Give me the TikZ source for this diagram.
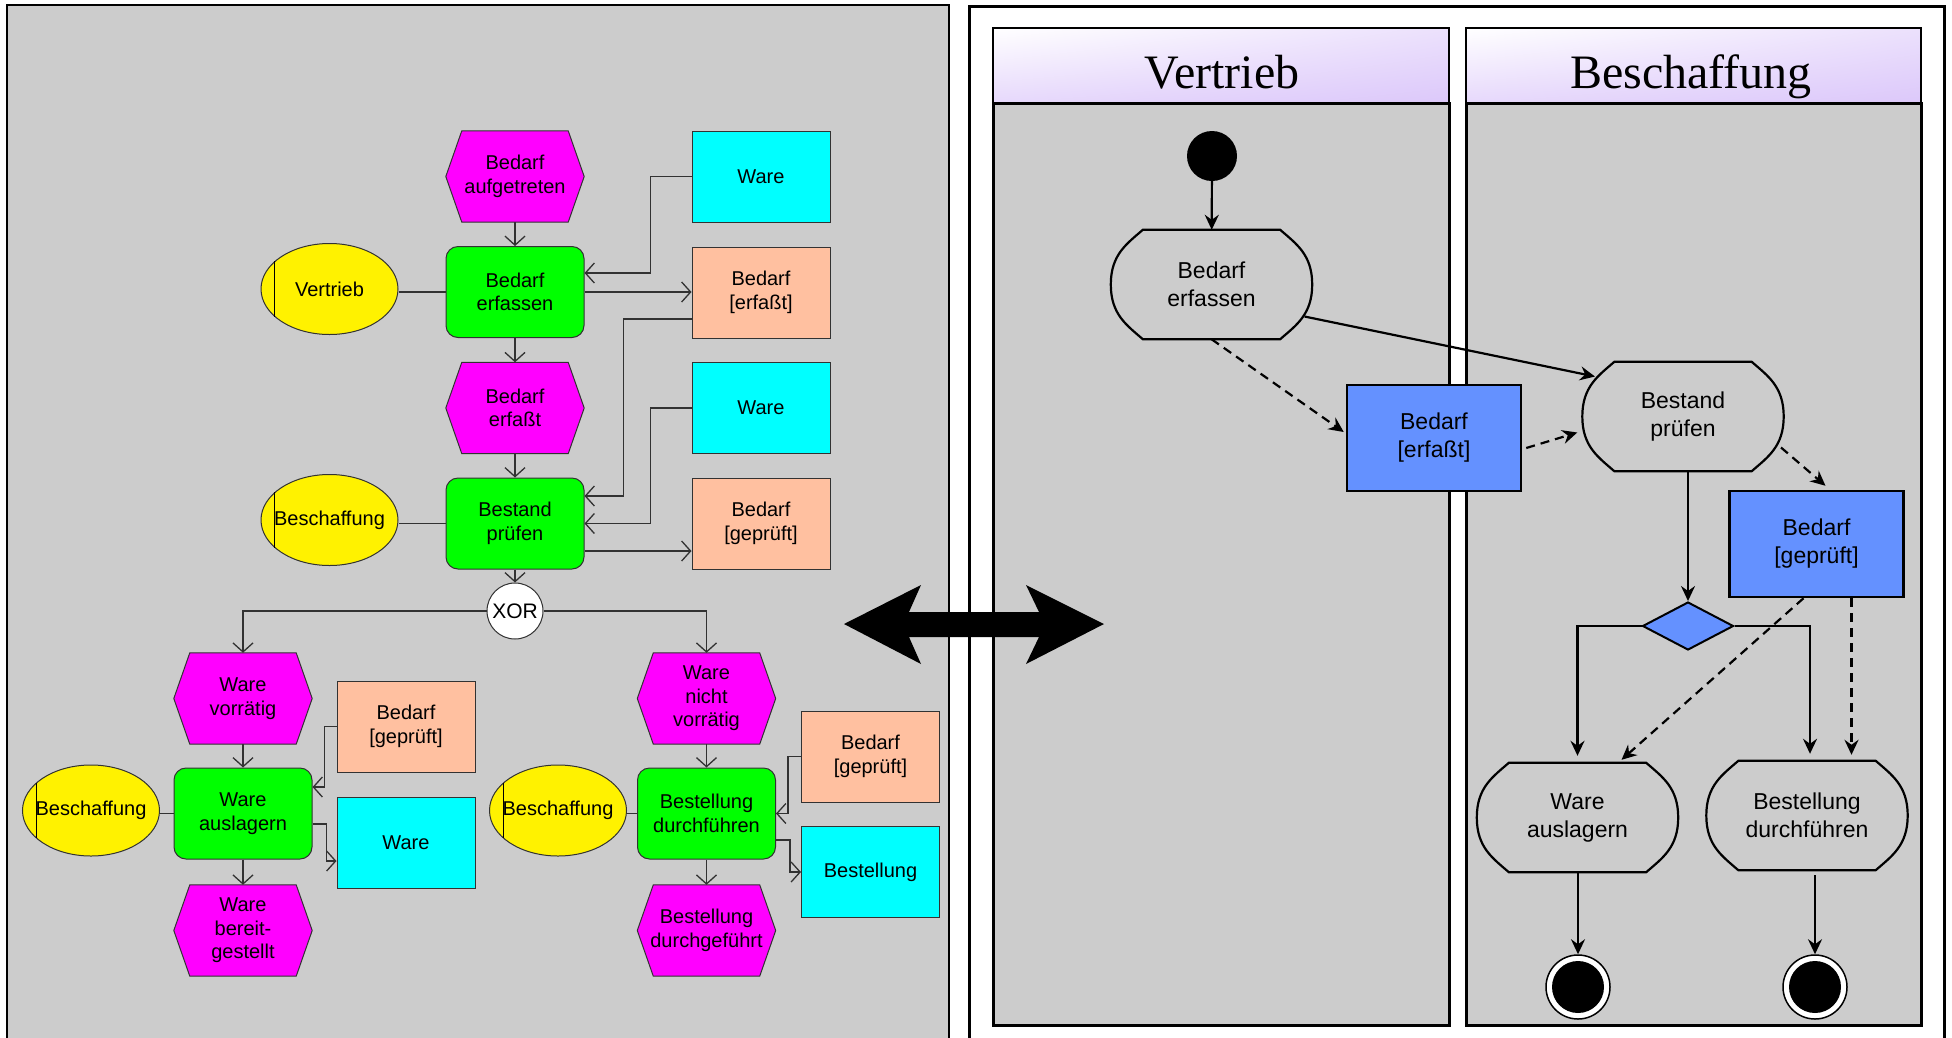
\documentclass[tikz,border=0pt]{standalone}
\usepackage{fontspec}
\setmainfont{Liberation Sans}
\newfontfamily\headfont{Liberation Serif}
\usetikzlibrary{shapes.geometric,arrows.meta,calc,shadings}
\pgfdeclarelayer{panel}
\pgfdeclarelayer{shape}
\pgfsetlayers{panel,shape,main}

\definecolor{bggray}{RGB}{204,204,204}
\definecolor{fngreen}{RGB}{0,255,0}
\definecolor{evmag}{RGB}{255,0,255}
\definecolor{infcyan}{RGB}{0,255,255}
\definecolor{salmon}{RGB}{255,192,160}
\definecolor{objblue}{RGB}{100,145,255}
\definecolor{lavender}{RGB}{220,200,250}
\definecolor{epcedge}{RGB}{50,50,50}

\newcommand\epcfont{\fontsize{20}{23.5}\selectfont}
\newcommand\actfont{\fontsize{23}{28}\selectfont}

% hexagonal EPC event drawn behind its text node
\newcommand\evshape[1]{%
  \begin{pgfonlayer}{shape}
    \draw[draw=epcedge, line width=1pt, fill=evmag]
      (#1.west) -- ($(#1.north west)+(16,0)$) -- ($(#1.north east)+(-16,0)$)
      -- (#1.east) -- ($(#1.south east)+(-16,0)$) -- ($(#1.south west)+(16,0)$) -- cycle;
  \end{pgfonlayer}}

% barrel-shaped UML action outline around a node
\newcommand\actshape[1]{%
  \draw[line width=2.2pt]
    ($(#1.north west)+(32,0)$) -- ($(#1.north east)+(-32,0)$)
    .. controls ($(#1.north east)+(-16,14)$) and ($(#1.east)+(0,-30)$) .. (#1.east)
    .. controls ($(#1.east)+(0,30)$) and ($(#1.south east)+(-16,-14)$) .. ($(#1.south east)+(-32,0)$)
    -- ($(#1.south west)+(32,0)$)
    .. controls ($(#1.south west)+(16,-14)$) and ($(#1.west)+(0,30)$) .. (#1.west)
    .. controls ($(#1.west)+(0,-30)$) and ($(#1.north west)+(16,14)$) .. cycle;}

\tikzset{
  epcbox/.style={minimum width=138pt, minimum height=91pt, inner sep=0pt, align=center, font=\epcfont},
  func/.style={epcbox, rectangle, rounded corners=12pt, draw=epcedge, line width=1pt, fill=fngreen},
  event/.style={epcbox},
  info/.style={epcbox, rectangle, draw=epcedge, line width=1pt},
  ware/.style={info, fill=infcyan},
  bedarf/.style={info, fill=salmon},
  orgunit/.style={epcbox, minimum width=137pt, ellipse, draw=epcedge, line width=1pt, fill=yellow,
    label={[font=\epcfont, inner sep=0pt]center:#1}},
  epcline/.style={draw=epcedge, line width=1.3pt},
  epcarrow/.style={epcline, -{Straight Barb[length=9pt,width=20pt,line width=1.3pt]}},
  actnode/.style={minimum width=201pt, minimum height=109pt, inner sep=0pt, align=center, font=\actfont},
  objnode/.style={rectangle, draw=black, line width=2.5pt, fill=objblue, minimum width=174pt,
    minimum height=106pt, inner sep=0pt, align=center, font=\actfont},
  flow/.style={line width=2.2pt, -{Stealth[length=15pt,width=14pt,inset=5pt]}},
  objflow/.style={flow, dash pattern=on 9pt off 6pt},
  endnode/.style={circle, draw=black, line width=1.5pt, fill=white, minimum size=64pt, inner sep=0pt,
    path picture={\fill[black] (path picture bounding box.center) circle[radius=26pt];}},
  lanehead/.style={font=\headfont\fontsize{48}{48}\selectfont, anchor=base},
  headshade/.style={upper left=white, upper right=lavender!55, lower left=lavender!70, lower right=lavender},
}

\begin{document}
\begin{tikzpicture}[x=1pt,y=-1pt]
\useasboundingbox (0,0) rectangle (1952,1037);

% ---------- panels and swimlanes ----------
\begin{pgfonlayer}{panel}
  \draw[line width=2.5pt, fill=bggray] (7,5) rectangle (949,1060);
  \draw[line width=3pt, fill=white] (969,6) rectangle (1944,1060);
  \draw[line width=3pt, fill=bggray] (993,103) rectangle (1449,1025);
  \draw[line width=3pt, fill=bggray] (1466,103) rectangle (1921,1025);
  \shade[headshade] (993,28) rectangle (1449,103);
  \shade[headshade] (1466,28) rectangle (1921,103);
  \draw[line width=2pt] (993,28) rectangle (1449,103);
  \draw[line width=2pt] (1466,28) rectangle (1921,103);
\end{pgfonlayer}

% ---------- EPC ----------
\node[event] (ev1) at (515,176.5) {Bedarf\\aufgetreten}; \evshape{ev1}
\node[func] (fn1) at (515,292) {Bedarf\\erfassen};
\node[orgunit=Vertrieb] (org1) at (329.5,289) {};
\node[ware] (ware1) at (761,176.5) {Ware};
\node[bedarf] (bedE) at (761,292.5) {Bedarf\\{[erfaßt]}};
\node[event] (ev2) at (515,408) {Bedarf\\erfaßt}; \evshape{ev2}
\node[ware] (ware2) at (761,408) {Ware};
\node[func] (fn2) at (515,523.5) {Bestand\\prüfen};
\node[orgunit=Beschaffung] (org2) at (329.5,520) {};
\node[bedarf] (bedG) at (761,523.5) {Bedarf\\{[geprüft]}};
\node[circle, draw=epcedge, line width=1pt, fill=white, minimum size=56pt, inner sep=0pt,
      font=\fontsize{21}{21}\selectfont] (xor) at (515,611) {XOR};

\node[event] (ev3) at (243,698.5) {Ware\\vorrätig}; \evshape{ev3}
\node[func] (fn3) at (243,813.5) {Ware\\auslagern};
\node[event] (ev4) at (243,930.5) {Ware\\bereit-\\gestellt}; \evshape{ev4}
\node[orgunit=Beschaffung] (org3) at (91,810.5) {};
\node[bedarf] (bedG2) at (406,726.5) {Bedarf\\{[geprüft]}};
\node[ware] (ware3) at (406,842.5) {Ware};

\node[event] (ev5) at (706.5,698.5) {Ware\\nicht\\vorrätig}; \evshape{ev5}
\node[func] (fn4) at (706.5,813.5) {Bestellung\\durchführen};
\node[event] (ev6) at (706.5,930.5) {Bestellung\\durchgeführt}; \evshape{ev6}
\node[orgunit=Beschaffung] (org4) at (558,810.5) {};
\node[bedarf] (bedG3) at (870.5,756.5) {Bedarf\\{[geprüft]}};
\node[ware] (best) at (870.5,872) {Bestellung};

% organisational unit marks
\foreach \o in {org1,org2,org3,org4} \draw[line width=1pt] (\o.153) -- (\o.207);

% EPC control flow
\draw[epcarrow] (ev1) -- (fn1);
\draw[epcarrow] (fn1) -- (ev2);
\draw[epcarrow] (ev2) -- (fn2);
\draw[epcarrow] (fn2) -- (xor);
\draw[epcarrow] (xor.west) -| (ev3.north);
\draw[epcarrow] (xor.east) -| (ev5.north);
\draw[epcarrow] (ev3) -- (fn3);
\draw[epcarrow] (fn3) -- (ev4);
\draw[epcarrow] (ev5) -- (fn4);
\draw[epcarrow] (fn4) -- (ev6);

% EPC data and organisation links
\draw[epcline] (fn1.west) -- (fn1.west -| org1.east);
\draw[epcline] (fn2.west) -- (fn2.west -| org2.east);
\draw[epcline] (fn3.west) -- (fn3.west -| org3.east);
\draw[epcline] (fn4.west) -- (fn4.west -| org4.east);
\draw[epcarrow] (ware1.west) -- ++(-41,0) |- ([yshift=19pt]fn1.east);
\draw[epcarrow] (fn1.east) -- (fn1.east -| bedE.west);
\draw[epcarrow] ([yshift=-26.5pt]bedE.west) -- ++(-68,0) |- ([yshift=27.5pt]fn2.east);
\draw[epcarrow] (ware2.west) -- ++(-41,0) |- (fn2.east);
\draw[epcarrow] ([yshift=-27.5pt]fn2.east) -- ([yshift=-27.5pt]bedG.west);
\draw[epcarrow] (bedG2.west) -- ++(-12,0) |- ([yshift=26.5pt]fn3.east);
\draw[epcarrow] ([yshift=-10.5pt]fn3.east) -- ++(14,0) |- ([yshift=-18.5pt]ware3.west);
\draw[epcarrow] (bedG3.west) -- ++(-13,0) |- (fn4.east);
\draw[epcarrow] ([yshift=-26.5pt]fn4.east) -- ++(14,0) |- (best.west);

% ---------- UML activity diagram ----------
\node[lanehead] (laneV) at (1222,88) {Vertrieb};
\node[lanehead] (laneB) at (1691,88) {Beschaffung};

\node[circle, fill=black, minimum size=50pt, inner sep=0pt] (start) at (1212,156) {};
\node[actnode] (act1) at (1211.5,284.5) {Bedarf\\erfassen}; \actshape{act1}
\node[actnode] (act2) at (1683,416.5) {Bestand\\prüfen}; \actshape{act2}
\node[objnode] (obj1) at (1434,438) {Bedarf\\{[erfaßt]}};
\node[objnode] (obj2) at (1816.5,544) {Bedarf\\{[geprüft]}};
\node[diamond, draw=black, line width=2pt, fill=objblue, minimum width=91pt, minimum height=48pt,
      inner sep=0pt] (dec) at (1688,626) {};
\node[actnode] (act3) at (1577.5,817.5) {Ware\\auslagern}; \actshape{act3}
\node[actnode] (act4) at (1807,815.5) {Bestellung\\durchführen}; \actshape{act4}
\node[endnode] (end1) at (1578,987) {};
\node[endnode] (end2) at (1815,987) {};

\draw[flow] (start) -- (act1);
\draw[flow] ($(act1.center)+(93,32)$) -- ($(act2.center)+(-88,-40)$);
\draw[objflow] (act1.south) -- ($(obj1.west)+(-2,-6)$);
\draw[objflow] ($(obj1.east)+(4,10)$) -- ($(act2.west)+(-5,16)$);
\draw[objflow] ($(act2.center)+(98,31)$) -- ($(obj2.north)+(9,-4)$);
\draw[flow] (act2.south -| dec.north) -- (dec.north);
\draw[flow, shorten >=7pt] (dec.west) -| (act3.north);
\coordinate (decR) at ($(act4.north)+(3,0)$);
\draw[flow, shorten >=7pt] (dec.east) -| (decR);
\draw[objflow] ($(obj2.south)+(-13,0)$) -- ($(act3.north)+(44,-3)$);
\coordinate (g2) at ($(obj2.south)+(35,0)$);
\draw[objflow, shorten >=6pt] (g2) -- (g2 |- act4.north);
\draw[flow] (act3.south -| end1.north) -- (end1.north);
\draw[flow, shorten <=5pt] (act4.south -| end2.north) -- (end2.north);

% ---------- double arrow between the two notations ----------
\fill[black] (844,624) -- (921,585) -- (909,612) -- (1039,612) -- (1026,585) -- (1104,624)
  -- (1026,664) -- (1039,637) -- (909,637) -- (921,664) -- cycle;
\end{tikzpicture}
\end{document}
